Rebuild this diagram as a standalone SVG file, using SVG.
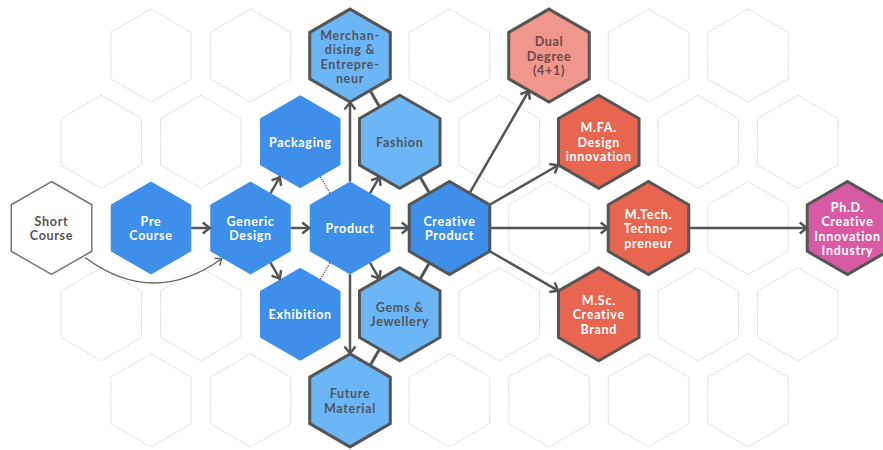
<svg xmlns="http://www.w3.org/2000/svg" xmlns:xlink="http://www.w3.org/1999/xlink" width="883" height="450" viewBox="0 0 883 450">
<style>
.bg{fill:#ffffff;stroke:#d2d2d2;stroke-width:1;stroke-dasharray:1.5 1}
.blue{fill:#3d8fe9}
.blueb{fill:#3d8fe9;stroke:#555;stroke-width:3}
.lblue{fill:#6db6f6;stroke:#555;stroke-width:3}
.salmon{fill:#f0978d;stroke:#555;stroke-width:3}
.orange{fill:#e8664f;stroke:#555;stroke-width:3}
.magenta{fill:#d95aa4;stroke:#555;stroke-width:3}
.white{fill:#ffffff;stroke:#777;stroke-width:1.5}
text{font-family:Lato,"Liberation Sans",sans-serif;font-weight:bold;font-size:12.5px;text-anchor:middle;letter-spacing:0.7px}
.tw{fill:#ffffff}
.td{fill:#4c5661}
.tg{fill:#555555}
.tb{fill:#6a4844}
.arrow{stroke:#555;stroke-width:2.5;fill:none;marker-end:url(#ah)}
.rung{stroke:#555;stroke-width:3;fill:none}
.dot{stroke:#444;stroke-width:1.3;stroke-dasharray:1.2 1.3;fill:none}
.curve{stroke:#666;stroke-width:1.5;fill:none;marker-end:url(#ahs)}
</style>
<defs>
<polygon id="hex" points="0,-46.5 40.27,-23.25 40.27,23.25 0,46.5 -40.27,23.25 -40.27,-23.25"/>
<marker id="ah" viewBox="-10 -7 12 14" refX="0" refY="0" markerWidth="12" markerHeight="14" markerUnits="userSpaceOnUse" orient="auto">
<path d="M-7.5,-5.5 L-0.5,0 L-7.5,5.5" fill="none" stroke="#555" stroke-width="2.5"/>
</marker>
<marker id="ahs" viewBox="-10 -7 12 14" refX="0" refY="0" markerWidth="12" markerHeight="14" markerUnits="userSpaceOnUse" orient="auto">
<path d="M-6,-4.5 L-0.5,0 L-6,4.5" fill="none" stroke="#666" stroke-width="1.5"/>
</marker>
</defs>
<rect width="883" height="450" fill="#ffffff"/>
<g id="grid">
<use xlink:href="#hex" class="bg" x="151" y="55.6"/>
<use xlink:href="#hex" class="bg" x="250.5" y="55.6"/>
<use xlink:href="#hex" class="bg" x="449.5" y="55.6"/>
<use xlink:href="#hex" class="bg" x="648.5" y="55.6"/>
<use xlink:href="#hex" class="bg" x="748" y="55.6"/>
<use xlink:href="#hex" class="bg" x="101.25" y="141.8"/>
<use xlink:href="#hex" class="bg" x="200.75" y="141.8"/>
<use xlink:href="#hex" class="bg" x="499.25" y="141.8"/>
<use xlink:href="#hex" class="bg" x="698.25" y="141.8"/>
<use xlink:href="#hex" class="bg" x="797.75" y="141.8"/>
<use xlink:href="#hex" class="bg" x="549" y="228"/>
<use xlink:href="#hex" class="bg" x="748" y="228"/>
<use xlink:href="#hex" class="bg" x="101.25" y="314.2"/>
<use xlink:href="#hex" class="bg" x="200.75" y="314.2"/>
<use xlink:href="#hex" class="bg" x="499.25" y="314.2"/>
<use xlink:href="#hex" class="bg" x="698.25" y="314.2"/>
<use xlink:href="#hex" class="bg" x="797.75" y="314.2"/>
<use xlink:href="#hex" class="bg" x="151" y="400.4"/>
<use xlink:href="#hex" class="bg" x="250.5" y="400.4"/>
<use xlink:href="#hex" class="bg" x="449.5" y="400.4"/>
<use xlink:href="#hex" class="bg" x="549" y="400.4"/>
<use xlink:href="#hex" class="bg" x="648.5" y="400.4"/>
<use xlink:href="#hex" class="bg" x="748" y="400.4"/>
</g>
<g id="short-course">
<use xlink:href="#hex" class="white" x="51.5" y="228"/>
<text class="tg" x="51.5" y="225.5">Short</text>
<text class="tg" x="51.5" y="240">Course</text>
</g>
<g id="pre-course">
<use xlink:href="#hex" class="blue" x="151" y="228"/>
<text class="tw" x="151" y="225.5">Pre</text>
<text class="tw" x="151" y="240">Course</text>
</g>
<g id="generic-design">
<use xlink:href="#hex" class="blue" x="250.5" y="228"/>
<text class="tw" x="250.5" y="225.5">Generic</text>
<text class="tw" x="250.5" y="240">Design</text>
</g>
<g id="packaging">
<use xlink:href="#hex" class="blue" x="300.25" y="141.8"/>
<text class="tw" x="300.25" y="146.5">Packaging</text>
</g>
<g id="exhibition">
<use xlink:href="#hex" class="blue" x="300.25" y="314.2"/>
<text class="tw" x="300.25" y="319">Exhibition</text>
</g>
<g id="product">
<use xlink:href="#hex" class="blue" x="350" y="228"/>
<text class="tw" x="350" y="232.5">Product</text>
</g>
<g id="merchandising">
<use xlink:href="#hex" class="lblue" x="350" y="55.6"/>
<text class="td" x="350" y="39.5">Merchan-</text>
<text class="td" x="350" y="54">dising &amp;</text>
<text class="td" x="350" y="68.5">Entrepre-</text>
<text class="td" x="350" y="83">neur</text>
</g>
<g id="fashion">
<use xlink:href="#hex" class="lblue" x="399.75" y="141.8"/>
<text class="td" x="399.75" y="146.5">Fashion</text>
</g>
<g id="gems">
<use xlink:href="#hex" class="lblue" x="399.75" y="314.2"/>
<text class="td" x="399.75" y="311.5">Gems &amp;</text>
<text class="td" x="399.75" y="326">Jewellery</text>
</g>
<g id="future-material">
<use xlink:href="#hex" class="lblue" x="350" y="400.4"/>
<text class="td" x="350" y="398">Future</text>
<text class="td" x="350" y="412.5">Material</text>
</g>
<g id="creative-product">
<use xlink:href="#hex" class="blueb" x="449.5" y="228"/>
<text class="tw" x="449.5" y="225.5">Creative</text>
<text class="tw" x="449.5" y="240">Product</text>
</g>
<g id="dual-degree">
<use xlink:href="#hex" class="salmon" x="549" y="55.6"/>
<text class="tb" x="549" y="46">Dual</text>
<text class="tb" x="549" y="60.5">Degree</text>
<text class="tb" x="549" y="75">(4+1)</text>
</g>
<g id="mfa">
<use xlink:href="#hex" class="orange" x="598.75" y="141.8"/>
<text class="tw" x="598.75" y="132">M.FA.</text>
<text class="tw" x="598.75" y="146.5">Design</text>
<text class="tw" x="598.75" y="161">innovation</text>
</g>
<g id="mtech">
<use xlink:href="#hex" class="orange" x="648.5" y="228"/>
<text class="tw" x="648.5" y="218.5">M.Tech.</text>
<text class="tw" x="648.5" y="233">Techno-</text>
<text class="tw" x="648.5" y="247.5">preneur</text>
</g>
<g id="msc">
<use xlink:href="#hex" class="orange" x="598.75" y="314.2"/>
<text class="tw" x="598.75" y="304.5">M.Sc.</text>
<text class="tw" x="598.75" y="319">Creative</text>
<text class="tw" x="598.75" y="333.5">Brand</text>
</g>
<g id="phd">
<use xlink:href="#hex" class="magenta" x="847.5" y="228"/>
<text class="tw" x="847.5" y="211.5">Ph.D.</text>
<text class="tw" x="847.5" y="226">Creative</text>
<text class="tw" x="847.5" y="240.5">Innovation</text>
<text class="tw" x="847.5" y="255">Industry</text>
</g>
<g id="connectors">
<path class="curve" d="M85,257.5 Q153.5,308 222,258.5"/>
<line class="arrow" x1="191.25" y1="228" x2="210.25" y2="228"/>
<line class="arrow" x1="270.6" y1="193.1" x2="280.1" y2="176.7"/>
<line class="arrow" x1="270.6" y1="262.9" x2="280.1" y2="279.3"/>
<line class="arrow" x1="290.75" y1="228" x2="309.75" y2="228"/>
<line class="arrow" x1="370.1" y1="193.1" x2="379.6" y2="176.7"/>
<line class="arrow" x1="370.1" y1="262.9" x2="379.6" y2="279.3"/>
<line class="arrow" x1="390.25" y1="228" x2="409.25" y2="228"/>
<line class="arrow" x1="350" y1="181.5" x2="350" y2="102.1"/>
<line class="arrow" x1="350" y1="274.5" x2="350" y2="353.9"/>
<line class="arrow" x1="469.6" y1="193.1" x2="528.9" y2="90.5"/>
<line class="arrow" x1="489.8" y1="204.75" x2="558.5" y2="165"/>
<line class="arrow" x1="489.75" y1="228" x2="608.25" y2="228"/>
<line class="arrow" x1="489.8" y1="251.25" x2="558.5" y2="290.9"/>
<line class="arrow" x1="688.75" y1="228" x2="807.25" y2="228"/>
<line class="rung" x1="370.1" y1="90.5" x2="379.6" y2="106.9"/>
<line class="rung" x1="419.9" y1="176.7" x2="429.4" y2="193.1"/>
<line class="rung" x1="429.4" y1="262.9" x2="419.9" y2="279.3"/>
<line class="rung" x1="379.6" y1="349.1" x2="370.1" y2="365.5"/>
<line class="dot" x1="320.4" y1="176.7" x2="329.9" y2="193.1"/>
<line class="dot" x1="320.4" y1="279.3" x2="329.9" y2="262.9"/>
</g>
</svg>
